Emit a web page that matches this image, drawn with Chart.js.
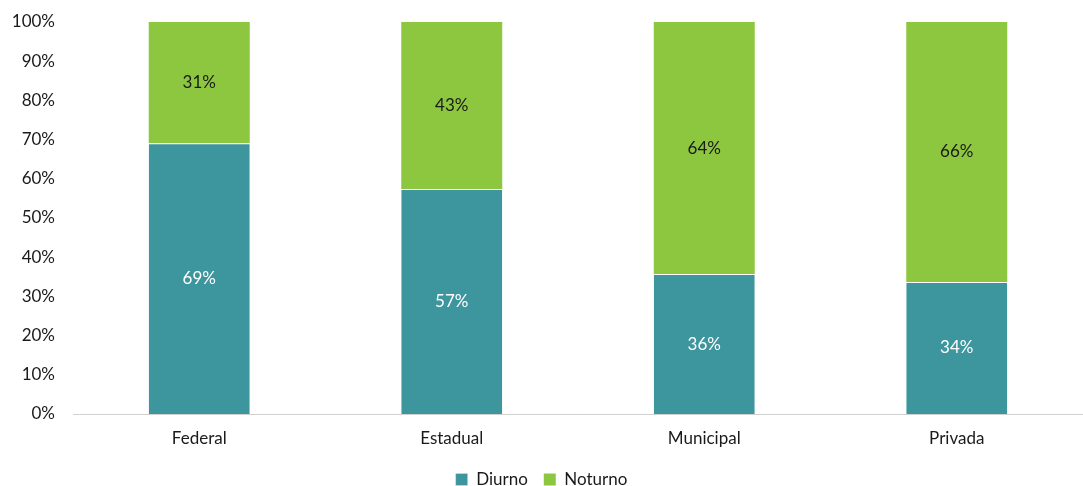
<!DOCTYPE html>
<html>
<head>
<meta charset="utf-8">
<script src="https://cdn.jsdelivr.net/npm/chart.js@4/dist/chart.umd.min.js"></script>
<style>
  html, body { margin: 0; padding: 0; background: #fff; }
  #wrap { width: 1083px; height: 486px; }
</style>
</head>
<body>
<div id="wrap"><canvas id="chartTurno" width="1083" height="486"></canvas></div>
<script>
// categorias e series
var categorias = ['Federal', 'Estadual', 'Municipal', 'Privada'];
var diurno = [69.1, 57.4, 35.7, 33.7];
var noturno = [30.9, 42.6, 64.3, 66.3];
var yTicks = [0, 10, 20, 30, 40, 50, 60, 70, 80, 90, 100];

var corDiurno = '#3d969d';
var corNoturno = '#8dc63f';
var fonte = "'Lato', 'Noto Sans', sans-serif";

// desenha o % no meio de cada segmento
var rotulosPlugin = {
    id: 'rotulos',
    afterDatasetsDraw: function (chart) {
        var ctx = chart.ctx;
        ctx.save();
        ctx.font = '17px ' + fonte;
        ctx.textAlign = 'center';
        ctx.textBaseline = 'middle';
        chart.data.datasets.forEach(function (ds, i) {
            var meta = chart.getDatasetMeta(i);
            meta.data.forEach(function (bar, j) {
                var y = (bar.y + bar.base) / 2;
                ctx.fillStyle = i === 0 ? '#ffffff' : '#1a1a1a';
                ctx.fillText(Math.round(ds.data[j]) + '%', bar.x, y);
            });
        });
        ctx.restore();
    }
};

var ctx = document.getElementById('chartTurno').getContext('2d');
var chartTurno = new Chart(ctx, {
    type: 'bar',
    plugins: [rotulosPlugin],
    data: {
        labels: categorias,
        datasets: [
            {
                label: 'Diurno',
                data: diurno,
                backgroundColor: corDiurno,
                borderColor: '#ffffff',
                borderWidth: { top: 1, left: 0, right: 0, bottom: 0 },
                borderSkipped: false,
                barPercentage: 0.4,
                categoryPercentage: 1.0
            },
            {
                label: 'Noturno',
                data: noturno,
                backgroundColor: corNoturno,
                borderColor: '#ffffff',
                borderWidth: 0,
                barPercentage: 0.4,
                categoryPercentage: 1.0
            }
        ]
    },
    options: {
        responsive: false,
        animation: false,
        layout: { padding: { top: 22, right: 0, left: 0, bottom: -12 } },
        scales: {
            x: {
                stacked: true,
                afterFit: function (scale) { scale.height = 41; },
                grid: { display: false, drawTicks: false },
                border: { color: '#d0d0d0', width: 1 },
                ticks: { color: '#1a1a1a', font: { family: fonte, size: 17 }, padding: 14 }
            },
            y: {
                stacked: true,
                min: 0,
                max: 100,
                afterBuildTicks: function (scale) {
                    scale.ticks = yTicks.map(function (v) { return { value: v }; });
                },
                afterFit: function (scale) {
                    scale.width = 73;
                    scale.paddingTop = 0;
                    scale.paddingBottom = 0;
                },
                grid: { display: false, drawTicks: false },
                border: { display: false },
                ticks: {
                    color: '#1a1a1a',
                    font: { family: fonte, size: 17 },
                    padding: 18,
                    callback: function (v) { return v + '%'; }
                }
            }
        },
        plugins: {
            legend: {
                position: 'bottom',
                labels: {
                    color: '#1a1a1a',
                    font: { family: fonte, size: 17 },
                    boxWidth: 12,
                    boxHeight: 12,
                    padding: 16
                }
            },
            tooltip: { enabled: false }
        }
    }
});
</script>
</body>
</html>
